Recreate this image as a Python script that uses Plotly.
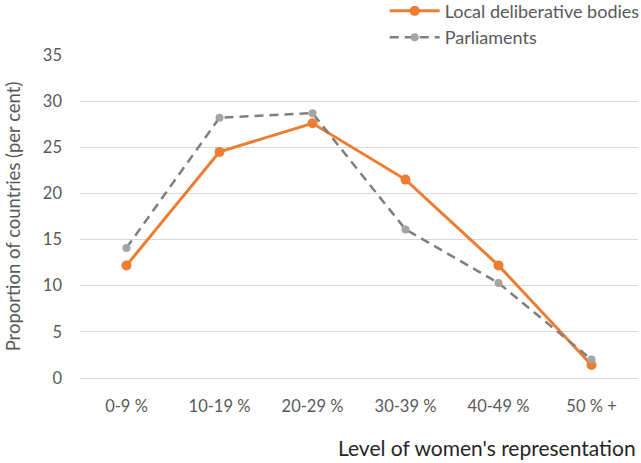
import plotly.graph_objects as go

# Share of countries by level of women's representation
levels = ["0-9 %", "10-19 %", "20-29 %", "30-39 %", "40-49 %", "50 % +"]
local_bodies = [12.2, 24.5, 27.6, 21.5, 12.2, 1.4]
parliaments = [14.1, 28.2, 28.7, 16.1, 10.3, 2.0]

ORANGE = "#ED7D31"
GREY_MARK = "#A5A5A5"
GREY_LINE = "#7F7F7F"
TEXT = "#595959"
FONT = "Lato, Open Sans, sans-serif"

fig = go.Figure()
fig.add_trace(go.Scatter(
    x=levels, y=local_bodies, name="Local deliberative bodies",
    mode="lines+markers",
    line=dict(color=ORANGE, width=3),
    marker=dict(color=ORANGE, size=10),
))
fig.add_trace(go.Scatter(
    x=levels, y=parliaments, name="Parliaments",
    mode="lines+markers",
    line=dict(color=GREY_LINE, width=2.5, dash="9px,6px"),
    marker=dict(color=GREY_MARK, size=8),
))

fig.update_layout(
    width=641, height=463,
    margin=dict(l=80, r=3, t=55, b=85, autoexpand=False),
    paper_bgcolor="white", plot_bgcolor="white",
    font=dict(family=FONT, color=TEXT, size=16),
    legend=dict(
        x=1.012, xanchor="right", y=1.193, yanchor="top",
        font=dict(size=18, color=TEXT),
        bgcolor="rgba(0,0,0,0)", tracegroupgap=0,
        itemwidth=50,
    ),
    showlegend=True,
)

fig.update_xaxes(
    type="category", range=[-0.5, 5.5],
    showgrid=False, showline=False, zeroline=False,
    ticks="", ticklabelstandoff=16,
    tickfont=dict(size=16.5, color=TEXT),
)
fig.update_yaxes(
    range=[0, 35], dtick=5,
    showgrid=True, gridcolor="#D9D9D9", gridwidth=1.3,
    zeroline=True, zerolinecolor="#D9D9D9", zerolinewidth=1.3,
    showline=False, ticks="", ticklabelstandoff=17,
    tickfont=dict(size=16.5, color=TEXT),
    title=dict(text="Proportion of countries (per cent)",
               font=dict(size=18.5, color=TEXT), standoff=17),
)

fig.add_annotation(
    text="Level of women's representation",
    xref="paper", yref="paper", x=1.0, y=-0.215,
    xanchor="right", yanchor="middle", showarrow=False,
    font=dict(size=21, color="#262626", family=FONT),
)

fig.write_html("out.html")
